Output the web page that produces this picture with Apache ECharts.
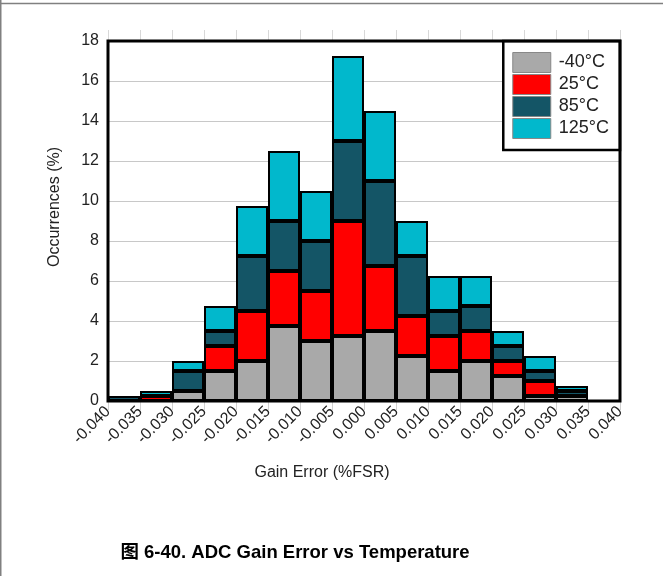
<!DOCTYPE html>
<html>
<head>
<meta charset="utf-8">
<script src="https://cdn.jsdelivr.net/npm/echarts@6/dist/echarts.min.js"></script>
<style>
html,body{margin:0;padding:0;background:#fff;}
#chart{width:663px;height:576px;}
</style>
</head>
<body>
<div id="chart"></div>
<script>
// Bin lower edges / tick labels (Gain Error, %FSR)
var tickLabels = ["-0.040","-0.035","-0.030","-0.025","-0.020","-0.015","-0.010","-0.005","0.000","0.005","0.010","0.015","0.020","0.025","0.030","0.035","0.040"];
var bins = ["-0.040","-0.035","-0.030","-0.025","-0.020","-0.015","-0.010","-0.005","0.000","0.005","0.010","0.015","0.020","0.025","0.030","0.035"];
var seriesNames = ["-40°C","25°C","85°C","125°C"];
var tMinus40 = [0, 0,    0.5, 1.5,  2,    3.75, 3,   3.25, 3.5,  2.25, 1.5,  2,    1.25, 0.25, 0.25, 0];
var t25      = [0, 0.25, 0,   1.25, 2.5,  2.75, 2.5, 5.75, 3.25, 2,    1.75, 1.5,  0.75, 0.75, 0,    0];
var t85      = [0.25, 0, 1,   0.75, 2.75, 2.5,  2.5, 4,    4.25, 3,    1.25, 1.25, 0.75, 0.5,  0.25, 0];
var t125     = [0, 0.25, 0.5, 1.25, 2.5,  3.5,  2.5, 4.25, 3.5,  1.75, 1.75, 1.5,  0.75, 0.75, 0.25, 0];
var colors = ["#a9a9a9","#ff0000","#145566","#01b8cc"];

var font = "Arial, 'Liberation Sans', sans-serif";
var allData = [tMinus40, t25, t85, t125];
var series = allData.map(function(arr, k){
  return {
    name: seriesNames[k],
    type: 'bar',
    stack: 'total',
    xAxisIndex: 0,
    barCategoryGap: '0%',
    data: arr.map(function(v){ return v === 0 ? '-' : v; }),
    itemStyle: {color: colors[k], borderColor: '#000', borderWidth: 2}
  };
});

var chart = echarts.init(document.getElementById('chart'), null, {renderer: 'canvas'});
chart.setOption({
  animation: false,
  backgroundColor: '#fff',
  textStyle: {fontFamily: font},
  grid: {left: 108, top: 41, right: 43, bottom: 175, show: true, borderColor: '#000', borderWidth: 3, backgroundColor: 'transparent', z: 10},
  legend: {
    orient: 'vertical', right: 43, top: 41,
    padding: [11, 11, 11, 9],
    itemWidth: 38, itemHeight: 20, itemGap: 1,
    backgroundColor: '#fff', borderColor: '#000', borderWidth: 2.5,
    icon: 'rect',
    itemStyle: {borderColor: '#888', borderWidth: 1},
    textStyle: {fontFamily: font, fontSize: 18, color: '#222', padding: [0,0,0,3]},
    data: seriesNames
  },
  xAxis: [
    {type: 'category', data: bins, boundaryGap: true,
     axisLine: {show: false}, axisTick: {show: false}, axisLabel: {show: false}, splitLine: {show: false}},
    {type: 'value', min: 0, max: 16, interval: 1, position: 'bottom',
     axisLine: {show: false},
     axisTick: {show: true, length: 9, lineStyle: {color: '#d0d0d0'}},
     splitLine: {show: false},
     axisLabel: {rotate: 45, fontSize: 16, color: '#222', margin: 8, fontFamily: font,
       formatter: function(v){ return tickLabels[Math.round(v)]; }}},
    {type: 'value', min: 0, max: 16, interval: 1, position: 'top',
     axisLine: {show: false},
     axisTick: {show: true, length: 11, lineStyle: {color: '#d8d8d8'}},
     splitLine: {show: false}, axisLabel: {show: false}}
  ],
  yAxis: {
    type: 'value', min: 0, max: 18, interval: 2,
    axisLine: {show: false}, axisTick: {show: false},
    splitLine: {show: true, lineStyle: {color: '#c8c8c8', width: 1}},
    axisLabel: {fontSize: 16, color: '#222', margin: 9, fontFamily: font}
  },
  graphic: [
    {type: 'line', shape: {x1: 0.5, y1: 0, x2: 0.5, y2: 576}, style: {stroke: '#808080', lineWidth: 2}},
    {type: 'line', shape: {x1: 0, y1: 3.5, x2: 663, y2: 3.5}, style: {stroke: '#808080', lineWidth: 1.5}},
    {type: 'text', x: 55, y: 207, rotation: Math.PI/2,
     style: {text: 'Occurrences (%)', font: '16px ' + font, fill: '#222', textAlign: 'center', textVerticalAlign: 'middle'}},
    {type: 'text', x: 322, y: 473,
     style: {text: 'Gain Error (%FSR)', font: '16px ' + font, fill: '#222', textAlign: 'center', textVerticalAlign: 'middle'}},
    {type: 'text', x: 295, y: 553,
     style: {text: '图 6-40. ADC Gain Error vs Temperature', font: 'bold 18.5px ' + font + ", 'Noto Sans CJK SC'", fill: '#000', textAlign: 'center', textVerticalAlign: 'middle'}}
  ],
  series: series
});
</script>
</body>
</html>
